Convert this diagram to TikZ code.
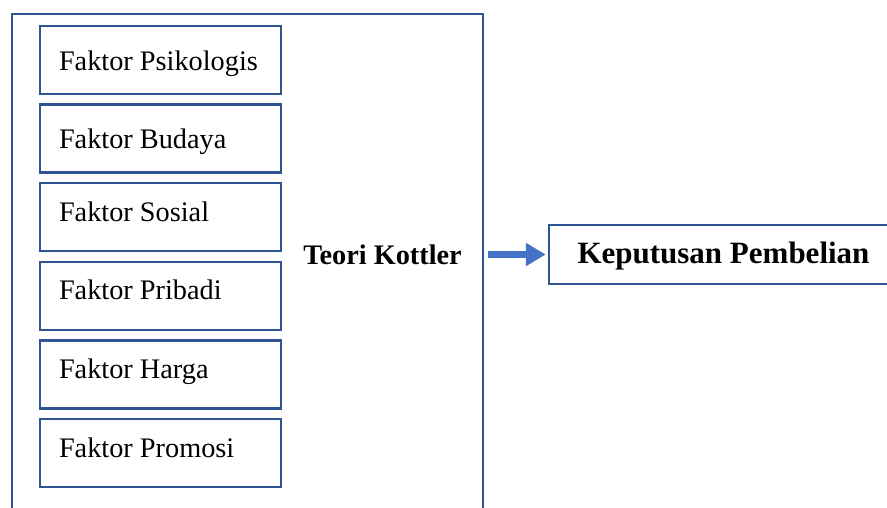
\documentclass[tikz,border=0pt]{standalone}
\usepackage{fontspec}
\setmainfont{Liberation Serif}
\usetikzlibrary{arrows.meta}
\definecolor{boxblue}{RGB}{47,85,151}
\definecolor{arrowblue}{RGB}{68,114,196}
\begin{document}
\begin{tikzpicture}[x=1pt,y=-1pt,
  frame/.style={draw=boxblue, line width=2.4pt, rectangle, inner sep=0pt},
  factor/.style={frame, minimum width=241pt, minimum height=68pt},
  ftext/.style={anchor=west, inner sep=0pt, text height=20pt, text depth=0pt,
    font=\fontsize{28.3}{30}\selectfont},
  flow/.style={draw=arrowblue, line width=7pt, -{Triangle[length=20pt,width=22pt]}}
]
\useasboundingbox (0,0) rectangle (887,507);
\clip (0,0) rectangle (887,507);
\node[frame, minimum width=471pt, minimum height=540pt] (outer) at (247.5,284) {};
\node[factor] (f1) at (160.5,60) {};
\node[factor] (f2) at (160.5,138.6) {};
\node[factor] (f3) at (160.5,217.2) {};
\node[factor] (f4) at (160.5,295.8) {};
\node[factor] (f5) at (160.5,374.4) {};
\node[factor] (f6) at (160.5,453) {};
\node[ftext] (t1) at ([xshift=20pt]f1.west) {Faktor Psikologis};
\node[ftext] (t2) at ([xshift=20pt]f2.west) {Faktor Budaya};
\node[ftext, yshift=6pt] (t3) at ([xshift=20pt]f3.west) {Faktor Sosial};
\node[ftext, yshift=6pt] (t4) at ([xshift=20pt]f4.west) {Faktor Pribadi};
\node[ftext, yshift=6pt] (t5) at ([xshift=20pt]f5.west) {Faktor Harga};
\node[ftext, yshift=6pt] (t6) at ([xshift=20pt]f6.west) {Faktor Promosi};
\node[anchor=base, font=\bfseries\fontsize{28.3}{30}\selectfont, inner sep=0pt] (tk) at (382.5,264) {Teori Kottler};
\node[frame, minimum width=349pt, minimum height=59pt, text height=17.6pt, text depth=0pt,
  font=\bfseries\fontsize{31}{33}\selectfont] (kp) at (723.5,254.5) {Keputusan Pembelian};
\draw[flow, shorten <=4pt, shorten >=2pt] (outer.east |- kp.west) -- (kp.west);
\end{tikzpicture}
\end{document}
